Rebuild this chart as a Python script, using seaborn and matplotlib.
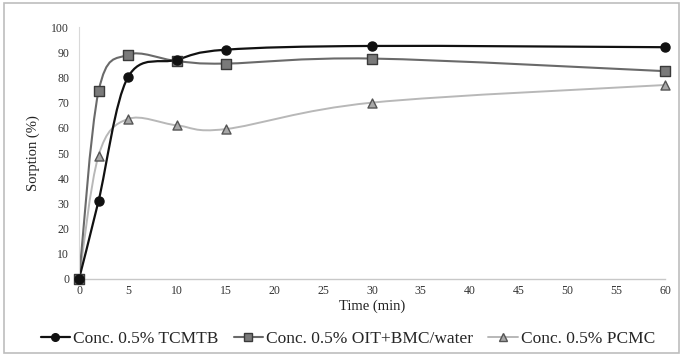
import numpy as np
import pandas as pd
import seaborn as sns
import matplotlib
matplotlib.use("Agg")
import matplotlib.pyplot as plt
from matplotlib.path import Path
from matplotlib.patches import PathPatch, Rectangle
from matplotlib.lines import Line2D

time_min = [0, 2, 5, 10, 15, 30, 60]
tcmtb = [0, 31, 80, 87, 91, 92.5, 92]
oit_bmc = [0, 74.5, 89, 86.5, 85.5, 87.5, 82.5]
pcmc = [0, 49, 63.5, 61, 59.5, 70, 77]
labels = ["Conc. 0.5% TCMTB", "Conc. 0.5% OIT+BMC/water", "Conc. 0.5% PCMC"]
xticks = list(range(0, 61, 5))
yticks = list(range(0, 101, 10))

sns.set_theme(style="white")
plt.rcParams["font.family"] = ["Liberation Serif", "DejaVu Serif"]

fig = plt.figure(figsize=(6.83, 3.56), dpi=100)
ax = fig.add_axes([0.1157, 0.2163, 0.8579, 0.7077])

def smooth_path(x, y):
    pts = np.column_stack([x, y]).astype(float)
    n = len(pts)
    verts = [pts[0]]
    codes = [Path.MOVETO]
    for i in range(n - 1):
        p0 = pts[i - 1] if i > 0 else pts[i]
        p1 = pts[i]
        p2 = pts[i + 1]
        p3 = pts[i + 2] if i + 2 < n else pts[i + 1]
        c1 = p1 + (p2 - p0) / 6.0
        c2 = p2 - (p3 - p1) / 6.0
        verts += [c1, c2, p2]
        codes += [Path.CURVE4] * 3
    return Path(verts, codes)

styles = [
    dict(line="#111111", lw=1.6, marker="o", face="#111111", edge="#111111", ms=6.5),
    dict(line="#6a6a6a", lw=1.5, marker="s", face="#7a7a7a", edge="#3a3a3a", ms=6.5),
    dict(line="#b8b8b8", lw=1.4, marker="^", face="#a8a8a8", edge="#555555", ms=6.5),
]
series = [tcmtb, oit_bmc, pcmc]

df = pd.DataFrame({
    "time": time_min * 3,
    "value": tcmtb + oit_bmc + pcmc,
    "series": sum([[l] * len(time_min) for l in labels], []),
})

for vals, st in zip(series[::-1], styles[::-1]):
    patch = PathPatch(smooth_path(time_min, vals), facecolor="none",
                      edgecolor=st["line"], lw=st["lw"], zorder=2)
    ax.add_patch(patch)

for st, lab in zip(styles[::-1], labels[::-1]):
    sub = df[df["series"] == lab]
    sns.scatterplot(data=sub, x="time", y="value", ax=ax, marker=st["marker"],
                    color=st["face"], edgecolor=st["edge"], linewidth=1.0,
                    s=st["ms"] ** 2, zorder=3, legend=False, clip_on=False)

ax.set_xlim(0, 60)
ax.set_ylim(0, 100)
ax.set_xticks(xticks)
ax.set_yticks(yticks)
ax.tick_params(axis="both", labelsize=8.5, length=0, colors="#333333")
ax.tick_params(axis="y", pad=7)
ax.tick_params(axis="x", pad=4)
ax.set_xlabel("Time (min)", fontsize=10.5, color="#222222", labelpad=2)
ax.set_ylabel("Sorption (%)", fontsize=10.5, color="#222222", labelpad=8)
for s in ["top", "right"]:
    ax.spines[s].set_visible(False)
ax.spines["left"].set_color("#d9d9d9")
ax.spines["bottom"].set_color("#c8c8c8")
ax.spines["left"].set_linewidth(0.8)
ax.spines["bottom"].set_linewidth(1.0)

handles = [Line2D([0], [0], color=st["line"], lw=st["lw"], marker=st["marker"],
                  markerfacecolor=st["face"], markeredgecolor=st["edge"], markersize=5.5)
           for st in styles]
fig.legend(handles, labels, loc="center", bbox_to_anchor=(0.509, 0.048), ncol=3,
           frameon=False, fontsize=12.5, handlelength=1.7, handletextpad=0.15,
           columnspacing=0.9)

fig.patches.append(Rectangle((0.006, 0.008), 0.988, 0.984, transform=fig.transFigure,
                             fill=False, edgecolor="#bdbdbd", lw=1.2))

fig.savefig("out.png", dpi=100)
